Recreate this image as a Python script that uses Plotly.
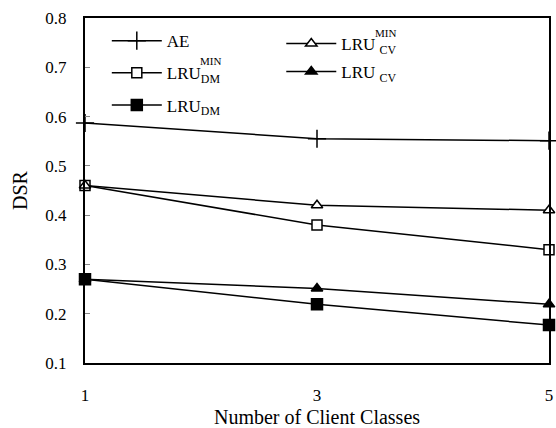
import plotly.graph_objects as go

classes = [1, 3, 5]
ae = [0.587, 0.555, 0.551]
lru_cv_min = [0.460, 0.420, 0.410]
lru_dm_min = [0.460, 0.380, 0.330]
lru_cv = [0.270, 0.251, 0.219]
lru_dm = [0.270, 0.219, 0.177]

# name, values, symbol, fill, size, legend
series = [
    ("AE", ae, "cross-thin", "black", 13, "legend"),
    ("LRU<sub>DM</sub>", lru_dm_min, "square", "white", 10, "legend"),
    ("LRU<sub>DM</sub>", lru_dm, "square", "black", 11, "legend"),
    ("LRU <sub>CV</sub>", lru_cv_min, "triangle-up", "white", 10, "legend2"),
    ("LRU <sub>CV</sub>", lru_cv, "triangle-up", "black", 10, "legend2"),
]

fig = go.Figure()
for i, (name, vals, sym, fill, size, leg) in enumerate(series):
    fig.add_trace(go.Scatter(
        x=classes, y=vals, name=name, mode="lines+markers",
        line=dict(color="black", width=1.5),
        marker=dict(symbol=sym, size=size, color=fill,
                    line=dict(color="black", width=1.5)),
        cliponaxis=False, legend=leg, legendgroup="g%d" % i,
    ))

font = "Liberation Serif"
leg_common = dict(orientation="v", xanchor="left", yanchor="top",
                  font=dict(family=font, size=17), bgcolor="rgba(0,0,0,0)",
                  traceorder="grouped", itemwidth=50)
fig.update_layout(
    width=556, height=428,
    margin=dict(l=85, r=3, t=18, b=62),
    paper_bgcolor="white", plot_bgcolor="white",
    font=dict(family=font, size=17, color="black"),
    showlegend=True,
    legend=dict(x=0.047, y=0.985, tracegroupgap=7, **leg_common),
    legend2=dict(x=0.423, y=0.977, tracegroupgap=3, **leg_common),
    xaxis=dict(range=[1, 5], tickvals=classes, ticktext=["1", "3", "5"],
               showgrid=False, zeroline=False, showline=True, linecolor="black",
               linewidth=2, mirror=True, ticks="", ticklabelstandoff=16,
               title=dict(text="Number of Client Classes", font=dict(size=20), standoff=6)),
    yaxis=dict(range=[0.1, 0.8], dtick=0.1, tickformat=".1f",
               showgrid=False, zeroline=False, showline=True, linecolor="black",
               linewidth=2, mirror=True, ticks="inside", ticklen=5, tickcolor="#888",
               ticklabelstandoff=13,
               title=dict(text="DSR", font=dict(size=20), standoff=12)),
)
fig.add_annotation(xref="paper", yref="paper", x=0.27, y=0.876, text="MIN",
                   xanchor="center", yanchor="middle",
                   showarrow=False, font=dict(size=11))
fig.add_annotation(xref="paper", yref="paper", x=0.647, y=0.957, text="MIN",
                   xanchor="center", yanchor="middle",
                   showarrow=False, font=dict(size=11))
fig.write_html("out.html")
